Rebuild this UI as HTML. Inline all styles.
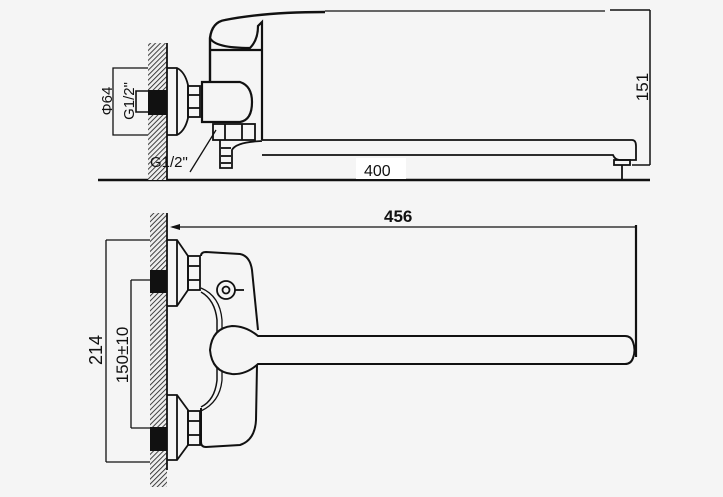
<!DOCTYPE html>
<html><head><meta charset="utf-8"><style>
html,body{margin:0;padding:0;background:#f5f5f5}
svg{display:block}
text{font-family:"Liberation Sans",Arial,sans-serif;fill:#111}
</style></head><body>
<svg width="723" height="497" viewBox="0 0 723 497" xmlns="http://www.w3.org/2000/svg">
<defs>
<pattern id="h" width="3.5" height="3.5" patternUnits="userSpaceOnUse" patternTransform="rotate(45)">
<rect width="4" height="4" fill="#eee"/><line x1="0" y1="0" x2="0" y2="4" stroke="#222" stroke-width="1.7"/>
</pattern>
</defs>
<rect width="723" height="497" fill="#f5f5f5"/>
<g fill="none" stroke="#111" stroke-width="1.8">
<!-- TOP VIEW -->
<line x1="98" y1="180" x2="650" y2="180" stroke-width="2.4"/>
<rect x="148" y="43" width="19" height="137" fill="url(#h)" stroke="none"/>
<line x1="167" y1="43" x2="167" y2="180"/>
<rect x="148" y="90" width="19" height="25" fill="#111" stroke="none"/>
<polyline points="148,68 113,68 113,135 148,135" stroke-width="1.3"/>
<polyline points="148,91 136,91 136,112 148,112" stroke-width="1.6"/>
<path d="M167,68 L177,68 Q185,72 188,85 L188,118 Q185,131 177,135 L167,135"/>
<line x1="177" y1="68" x2="177" y2="135"/>
<rect x="188" y="86" width="12" height="31"/>
<line x1="188" y1="95" x2="200" y2="95"/><line x1="188" y1="108" x2="200" y2="108"/>
<path d="M210,82 L210,38 Q212,22 225,20 Q265,12 325,12" stroke-width="2.4"/>
<path d="M210,38 Q215,48 250,48 Q258,40 258,26 L262,22 L262,140" stroke-width="2.2"/>
<line x1="211" y1="50" x2="261" y2="50" stroke-width="2.2"/>
<path d="M202,82 L240,82 Q252,86 252,102 Q252,120 240,122 L202,122 Z" stroke-width="2.2"/>
<rect x="213" y="124" width="42" height="16"/>
<line x1="225" y1="124" x2="225" y2="140"/><line x1="242" y1="124" x2="242" y2="140"/>
<path d="M220,140 L220,168 L232,168 L232,150 Q236,142 262,141"/>
<line x1="221" y1="148" x2="231" y2="148"/><line x1="221" y1="156" x2="231" y2="156"/><line x1="221" y1="163" x2="231" y2="163"/>
<line x1="216" y1="130" x2="190" y2="172" stroke-width="1.3"/>
<path d="M262,140 L632,140 Q636,140 636,146 L636,160 L620,160 Q615,160 613,155 L262,155"/>
<rect x="614" y="160" width="16" height="5"/>
<line x1="622" y1="165" x2="622" y2="180"/>
<line x1="325" y1="11" x2="605" y2="11" stroke-width="1.3"/>
<line x1="610" y1="10" x2="650" y2="10" stroke-width="1.5"/>
<line x1="650" y1="10" x2="650" y2="165" stroke-width="1.5"/>
<line x1="632" y1="165" x2="650" y2="165" stroke-width="1.5"/>
<!-- BOTTOM VIEW -->
<rect x="150" y="213" width="17" height="274" fill="url(#h)" stroke="none"/>
<line x1="167" y1="213" x2="167" y2="470"/>
<rect x="150" y="270" width="17" height="23" fill="#111" stroke="none"/>
<rect x="150" y="427" width="17" height="24" fill="#111" stroke="none"/>
<line x1="172" y1="227" x2="636" y2="227" stroke-width="1.3"/>
<path d="M170,227 L180,224 L180,230 Z" fill="#111" stroke="none"/>
<line x1="636" y1="225" x2="636" y2="357" stroke-width="2.2"/>
<line x1="106" y1="240" x2="106" y2="462" stroke-width="1.3"/>
<line x1="106" y1="240" x2="150" y2="240" stroke-width="1.3"/>
<line x1="106" y1="462" x2="150" y2="462" stroke-width="1.3"/>
<line x1="131" y1="280" x2="131" y2="428" stroke-width="1.3"/>
<line x1="131" y1="280" x2="150" y2="280" stroke-width="1.3"/>
<line x1="131" y1="428" x2="150" y2="428" stroke-width="1.3"/>
<path d="M167,240 L177,240 L188,256 L188,290 L177,306 L167,306"/>
<line x1="177" y1="240" x2="177" y2="306"/>
<rect x="188" y="256" width="12" height="34"/>
<line x1="188" y1="266" x2="200" y2="266"/><line x1="188" y1="280" x2="200" y2="280"/>
<path d="M167,395 L177,395 L188,410 L188,445 L177,460 L167,460"/>
<line x1="177" y1="395" x2="177" y2="460"/>
<rect x="188" y="411" width="12" height="34"/>
<line x1="188" y1="421" x2="200" y2="421"/><line x1="188" y1="435" x2="200" y2="435"/>
<path d="M201,256 Q201,252 206,252 L240,254 Q250,256 252,270 L258,330 M257,365 L256,420 Q255,440 240,445 L206,447 Q201,447 201,442 L201,408" stroke-width="2"/>
<path d="M201,292 Q215,300 217,320 L217,380 Q215,400 201,407" stroke-width="1.5"/>
<path d="M201,288 Q220,296 222,320 L222,380 Q220,402 201,411" stroke-width="1.3"/>
<circle cx="226" cy="290" r="9"/><circle cx="226" cy="290" r="3.5"/>
<line x1="235" y1="290" x2="244" y2="290"/>
<path d="M258,336 L625,336 Q631,336 633,342 Q636,350 633,358 Q631,364 625,364 L258,364 Q246,375 232,374 Q212,372 210,350 Q212,328 232,326 Q246,326 258,336 Z" fill="#f5f5f5" stroke-width="2"/>
</g>
<rect x="356" y="158" width="50" height="21" fill="#fff"/>
<text x="364" y="176" font-size="16">400</text>
<text x="384" y="222" font-size="17" font-weight="bold">456</text>
<text x="150" y="167" font-size="15">G1/2"</text>
<text transform="translate(112,101) rotate(-90)" font-size="15" text-anchor="middle">Φ64</text>
<text transform="translate(134,101) rotate(-90)" font-size="15" text-anchor="middle">G1/2"</text>
<text transform="translate(648,87) rotate(-90)" font-size="17" text-anchor="middle">151</text>
<text transform="translate(102,350) rotate(-90)" font-size="18" text-anchor="middle">214</text>
<text transform="translate(128,355) rotate(-90)" font-size="17" text-anchor="middle">150±10</text>
</svg>
</body></html>
